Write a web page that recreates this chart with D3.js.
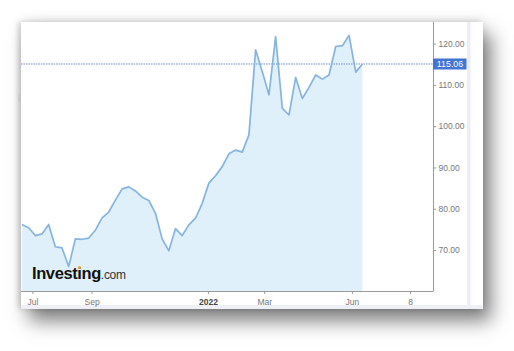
<!DOCTYPE html>
<html>
<head>
<meta charset="utf-8">
<script src="https://cdn.jsdelivr.net/npm/d3@7"></script>
<style>
  html, body { margin: 0; padding: 0; background: #ffffff; width: 514px; height: 351px; overflow: hidden; }
  #panel { position: absolute; left: 21px; top: 22px; width: 462px; height: 287px; background: #fff;
    box-shadow: 8px 12px 18px rgba(0,0,0,0.5), 0 -2px 10px rgba(0,0,0,0.10), -3px 0 5px rgba(0,0,0,0.12); }
  svg { position: absolute; left: 0; top: 0; }
  text { font-family: "Liberation Sans", Arial, sans-serif; }
</style>
</head>
<body>
<div id="panel"></div>
<svg id="chart" width="514" height="351"></svg>
<script>
const dates = ["2021-06-20","2021-06-27","2021-07-04","2021-07-11","2021-07-18","2021-07-25","2021-08-01","2021-08-08","2021-08-15","2021-08-22","2021-08-29","2021-09-05","2021-09-12","2021-09-19","2021-09-26","2021-10-03","2021-10-10","2021-10-17","2021-10-24","2021-10-31","2021-11-07","2021-11-14","2021-11-21","2021-11-28","2021-12-05","2021-12-12","2021-12-19","2021-12-26","2022-01-02","2022-01-09","2022-01-16","2022-01-23","2022-01-30","2022-02-06","2022-02-13","2022-02-20","2022-02-27","2022-03-06","2022-03-13","2022-03-20","2022-03-27","2022-04-03","2022-04-10","2022-04-17","2022-04-24","2022-05-01","2022-05-08","2022-05-15","2022-05-22","2022-05-29","2022-06-05","2022-06-12"];
const prices = [76.2,75.4,73.5,73.9,76.2,70.8,70.5,66.0,72.7,72.6,72.9,74.8,77.8,79.2,82.1,84.8,85.3,84.3,82.8,82.0,78.9,72.7,69.8,75.2,73.5,76.1,77.7,81.3,86.2,88.0,90.2,93.3,94.2,93.7,97.9,118.5,113.2,107.6,121.7,104.3,102.7,111.8,106.7,109.4,112.4,111.4,112.4,119.3,119.5,122.0,113.1,115.06];
const xTickDates = ["2021-07-01","2021-09-01","2022-01-01","2022-03-01","2022-06-01","2022-08-01"];
const xTickLabels = ["Jul","Sep","2022","Mar","Jun","8"];
const yTicks = [70,80,90,100,110,120];
const lastPrice = 115.06;
const logoMain = "Investing";
const logoSuffix = ".com";

const parse = d3.utcParse("%Y-%m-%d");
const data = dates.map((d, i) => ({ date: parse(d), value: prices[i] }));

const pLeft = 21, pRight = 433, pTop = 22, pBottom = 291;
const x = d3.scaleUtc().domain([parse("2021-06-19"), parse("2022-08-25")]).range([pLeft, pRight]);
const y = d3.scaleLinear().domain([60, 120]).range([291.3, 43.6]);

const svg = d3.select("#chart");

// right side light strip and bottom strip
svg.append("rect").attr("x", 467).attr("y", pTop).attr("width", 3.5).attr("height", 287).attr("fill", "#eceef6");
svg.append("rect").attr("x", pLeft).attr("y", 305).attr("width", 462).attr("height", 4).attr("fill", "#eef0f5");
// small left handle
svg.append("rect").attr("x", 18.5).attr("y", 95).attr("width", 2).attr("height", 7).attr("fill", "#c4c4c4");

// area
svg.append("path").datum(data)
  .attr("d", d3.area().x(d => x(d.date)).y0(pBottom).y1(d => y(d.value)))
  .attr("fill", "#e0f0fa");

// last price line
svg.append("line").attr("x1", pLeft).attr("x2", pRight)
  .attr("y1", y(lastPrice)).attr("y2", y(lastPrice))
  .attr("stroke", "#6d8cc8").attr("stroke-width", 1).attr("stroke-dasharray", "1.5,1");

// line
svg.append("path").datum(data)
  .attr("d", d3.line().x(d => x(d.date)).y(d => y(d.value)))
  .attr("fill", "none").attr("stroke", "#86b4e0").attr("stroke-width", 1.7).attr("stroke-linejoin", "round");

// logo
const logo = svg.append("text").attr("x", 32).attr("y", 279)
  .attr("font-size", 16.5).attr("font-weight", "bold").attr("fill", "#111").attr("letter-spacing", "-0.4");
logo.append("tspan").text(logoMain);
logo.append("tspan").attr("font-weight", "normal").attr("font-size", 12).attr("fill", "#333").attr("letter-spacing", "-0.3").text(logoSuffix);
try {
  const node = logo.node();
  const ix = node.getStartPositionOfChar(6).x;
  const iw = node.getSubStringLength(6, 1);
  svg.append("circle").attr("cx", ix + iw / 2).attr("cy", 267.5).attr("r", 1.5).attr("fill", "#f4a41f");
} catch (e) {}

// axes
const xAxis = d3.axisBottom(x)
  .tickValues(xTickDates.map(parse))
  .tickSize(3)
  .tickFormat((d, i) => xTickLabels[i]);
const gx = svg.append("g").attr("transform", `translate(0,${pBottom})`).call(xAxis);
gx.select(".domain").attr("d", `M${pLeft},0.5H${pRight}`).attr("stroke", "#9a9a9a");
gx.selectAll(".tick line").attr("stroke", "#9a9a9a");
gx.selectAll(".tick text").attr("font-size", 8.5).attr("dy", "0.95em")
  .attr("font-family", "Liberation Sans, Arial, sans-serif")
  .attr("font-weight", (d, i) => xTickLabels[i] === "2022" ? "bold" : "normal")
  .attr("fill", (d, i) => xTickLabels[i] === "2022" ? "#444" : "#777");

const yAxis = d3.axisRight(y).tickValues(yTicks).tickSize(3).tickFormat(d3.format(".2f"));
const gy = svg.append("g").attr("transform", `translate(${pRight},0)`).call(yAxis);
gy.select(".domain").attr("d", `M0.5,${pTop}V${pBottom + 0.5}`).attr("stroke", "#9a9a9a");
gy.selectAll(".tick line").attr("stroke", "#9a9a9a");
gy.selectAll(".tick text").attr("fill", "#777").attr("font-size", 8.5).attr("x", 5.5)
  .attr("font-family", "Liberation Sans, Arial, sans-serif");

// price label
svg.append("rect").attr("x", pRight).attr("y", y(lastPrice) - 5.5).attr("width", 33.5).attr("height", 11)
  .attr("fill", "#4274d6");
svg.append("text").attr("x", pRight + 17).attr("y", y(lastPrice)).attr("dy", "0.35em")
  .attr("text-anchor", "middle").attr("font-size", 8.8).attr("fill", "#fff")
  .text(d3.format(".2f")(lastPrice));
</script>
</body>
</html>
